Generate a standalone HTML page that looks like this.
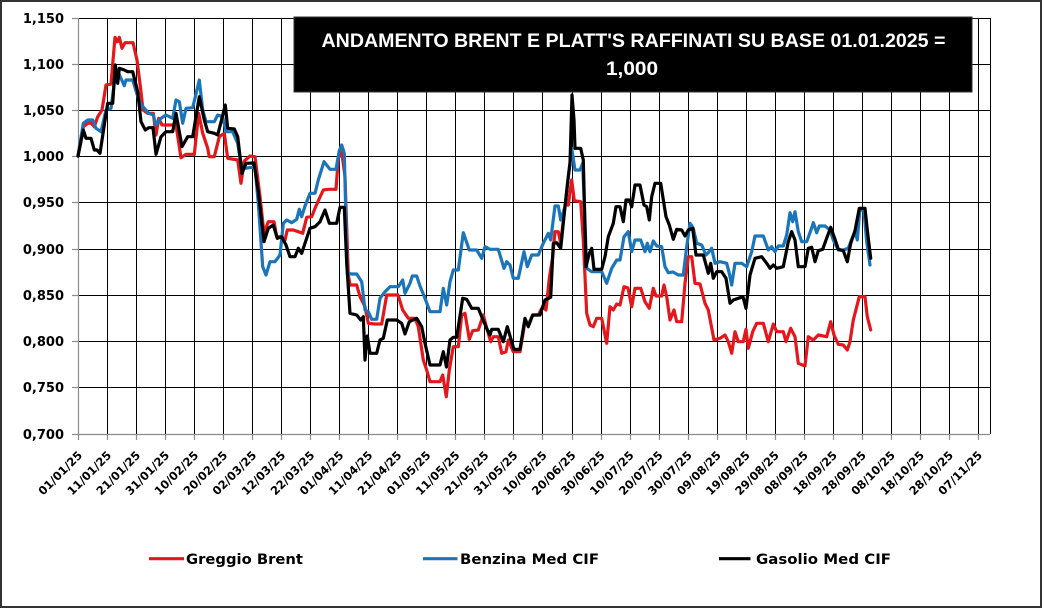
<!DOCTYPE html>
<html><head><meta charset="utf-8"><style>
html,body{margin:0;padding:0;background:#fff;}
svg{display:block;}
.yl{font-family:"DejaVu Sans","Liberation Sans",sans-serif;font-weight:bold;font-size:13px;fill:#000;}
.xl{font-family:"DejaVu Sans","Liberation Sans",sans-serif;font-weight:bold;font-size:11.5px;fill:#000;}
.lg{font-family:"DejaVu Sans","Liberation Sans",sans-serif;font-weight:bold;font-size:14px;fill:#000;}
.tt{font-family:"Liberation Sans",sans-serif;font-weight:bold;font-size:19px;fill:#fff;}
</style></head><body>
<svg width="1044" height="609" viewBox="0 0 1044 609" xmlns="http://www.w3.org/2000/svg">
<rect x="0" y="0" width="1044" height="609" fill="#fff"/>
<rect x="1" y="1" width="1040" height="606" fill="#fff" stroke="#333" stroke-width="2"/>

<!-- horizontal gridlines -->
<g stroke="#000" stroke-width="1">
<line x1="78" y1="18.5" x2="990" y2="18.5"/>
<line x1="78" y1="64.5" x2="990" y2="64.5"/>
<line x1="78" y1="110.5" x2="990" y2="110.5"/>
<line x1="78" y1="156.5" x2="990" y2="156.5"/>
<line x1="78" y1="202.5" x2="990" y2="202.5"/>
<line x1="78" y1="249.5" x2="990" y2="249.5"/>
<line x1="78" y1="295.5" x2="990" y2="295.5"/>
<line x1="78" y1="341.5" x2="990" y2="341.5"/>
<line x1="78" y1="387.5" x2="990" y2="387.5"/>
<line x1="990.5" y1="18" x2="990.5" y2="434"/>
</g>
<!-- vertical gridlines -->
<g stroke="#000" stroke-width="1">
<line x1="107.5" y1="18" x2="107.5" y2="434"/>
<line x1="136.5" y1="18" x2="136.5" y2="434"/>
<line x1="165.5" y1="18" x2="165.5" y2="434"/>
<line x1="194.5" y1="18" x2="194.5" y2="434"/>
<line x1="223.5" y1="18" x2="223.5" y2="434"/>
<line x1="252.5" y1="18" x2="252.5" y2="434"/>
<line x1="281.5" y1="18" x2="281.5" y2="434"/>
<line x1="310.5" y1="18" x2="310.5" y2="434"/>
<line x1="339.5" y1="18" x2="339.5" y2="434"/>
<line x1="368.5" y1="18" x2="368.5" y2="434"/>
<line x1="397.5" y1="18" x2="397.5" y2="434"/>
<line x1="426.5" y1="18" x2="426.5" y2="434"/>
<line x1="455.5" y1="18" x2="455.5" y2="434"/>
<line x1="484.5" y1="18" x2="484.5" y2="434"/>
<line x1="513.5" y1="18" x2="513.5" y2="434"/>
<line x1="542.5" y1="18" x2="542.5" y2="434"/>
<line x1="572.5" y1="18" x2="572.5" y2="434"/>
<line x1="601.5" y1="18" x2="601.5" y2="434"/>
<line x1="630.5" y1="18" x2="630.5" y2="434"/>
<line x1="659.5" y1="18" x2="659.5" y2="434"/>
<line x1="688.5" y1="18" x2="688.5" y2="434"/>
<line x1="717.5" y1="18" x2="717.5" y2="434"/>
<line x1="746.5" y1="18" x2="746.5" y2="434"/>
<line x1="775.5" y1="18" x2="775.5" y2="434"/>
<line x1="804.5" y1="18" x2="804.5" y2="434"/>
<line x1="833.5" y1="18" x2="833.5" y2="434"/>
<line x1="862.5" y1="18" x2="862.5" y2="434"/>
<line x1="891.5" y1="18" x2="891.5" y2="434"/>
<line x1="920.5" y1="18" x2="920.5" y2="434"/>
<line x1="949.5" y1="18" x2="949.5" y2="434"/>
<line x1="978.5" y1="18" x2="978.5" y2="434"/>
</g>
<!-- axes -->
<g stroke="#8c8c8c" stroke-width="1.2">
<line x1="78.5" y1="18" x2="78.5" y2="434"/>
<line x1="78" y1="434.5" x2="990" y2="434.5"/>
<line x1="72" y1="18.5" x2="78" y2="18.5"/>
<line x1="72" y1="64.5" x2="78" y2="64.5"/>
<line x1="72" y1="110.5" x2="78" y2="110.5"/>
<line x1="72" y1="156.5" x2="78" y2="156.5"/>
<line x1="72" y1="202.5" x2="78" y2="202.5"/>
<line x1="72" y1="249.5" x2="78" y2="249.5"/>
<line x1="72" y1="295.5" x2="78" y2="295.5"/>
<line x1="72" y1="341.5" x2="78" y2="341.5"/>
<line x1="72" y1="387.5" x2="78" y2="387.5"/>
<line x1="72" y1="434.5" x2="78" y2="434.5"/>
<line x1="78.5" y1="434" x2="78.5" y2="440"/>
<line x1="107.5" y1="434" x2="107.5" y2="440"/>
<line x1="136.5" y1="434" x2="136.5" y2="440"/>
<line x1="165.5" y1="434" x2="165.5" y2="440"/>
<line x1="194.5" y1="434" x2="194.5" y2="440"/>
<line x1="223.5" y1="434" x2="223.5" y2="440"/>
<line x1="252.5" y1="434" x2="252.5" y2="440"/>
<line x1="281.5" y1="434" x2="281.5" y2="440"/>
<line x1="310.5" y1="434" x2="310.5" y2="440"/>
<line x1="339.5" y1="434" x2="339.5" y2="440"/>
<line x1="368.5" y1="434" x2="368.5" y2="440"/>
<line x1="397.5" y1="434" x2="397.5" y2="440"/>
<line x1="426.5" y1="434" x2="426.5" y2="440"/>
<line x1="455.5" y1="434" x2="455.5" y2="440"/>
<line x1="484.5" y1="434" x2="484.5" y2="440"/>
<line x1="513.5" y1="434" x2="513.5" y2="440"/>
<line x1="542.5" y1="434" x2="542.5" y2="440"/>
<line x1="572.5" y1="434" x2="572.5" y2="440"/>
<line x1="601.5" y1="434" x2="601.5" y2="440"/>
<line x1="630.5" y1="434" x2="630.5" y2="440"/>
<line x1="659.5" y1="434" x2="659.5" y2="440"/>
<line x1="688.5" y1="434" x2="688.5" y2="440"/>
<line x1="717.5" y1="434" x2="717.5" y2="440"/>
<line x1="746.5" y1="434" x2="746.5" y2="440"/>
<line x1="775.5" y1="434" x2="775.5" y2="440"/>
<line x1="804.5" y1="434" x2="804.5" y2="440"/>
<line x1="833.5" y1="434" x2="833.5" y2="440"/>
<line x1="862.5" y1="434" x2="862.5" y2="440"/>
<line x1="891.5" y1="434" x2="891.5" y2="440"/>
<line x1="920.5" y1="434" x2="920.5" y2="440"/>
<line x1="949.5" y1="434" x2="949.5" y2="440"/>
<line x1="978.5" y1="434" x2="978.5" y2="440"/>
</g>

<!-- y labels -->
<g class="yl" text-anchor="end">
<text x="64" y="23">1,150</text>
<text x="64" y="69">1,100</text>
<text x="64" y="115">1,050</text>
<text x="64" y="161">1,000</text>
<text x="64" y="207">0,950</text>
<text x="64" y="254">0,900</text>
<text x="64" y="300">0,850</text>
<text x="64" y="346">0,800</text>
<text x="64" y="392">0,750</text>
<text x="64" y="439">0,700</text>
</g>
<!-- x labels -->
<g class="xl" text-anchor="end">
<text transform="translate(83,456) rotate(-45)">01/01/25</text>
<text transform="translate(112.03,456) rotate(-45)">11/01/25</text>
<text transform="translate(141.06,456) rotate(-45)">21/01/25</text>
<text transform="translate(170.09,456) rotate(-45)">31/01/25</text>
<text transform="translate(199.12,456) rotate(-45)">10/02/25</text>
<text transform="translate(228.15,456) rotate(-45)">20/02/25</text>
<text transform="translate(257.18,456) rotate(-45)">02/03/25</text>
<text transform="translate(286.21,456) rotate(-45)">12/03/25</text>
<text transform="translate(315.24,456) rotate(-45)">22/03/25</text>
<text transform="translate(344.27,456) rotate(-45)">01/04/25</text>
<text transform="translate(373.3,456) rotate(-45)">11/04/25</text>
<text transform="translate(402.33,456) rotate(-45)">21/04/25</text>
<text transform="translate(431.36,456) rotate(-45)">01/05/25</text>
<text transform="translate(460.39,456) rotate(-45)">11/05/25</text>
<text transform="translate(489.42,456) rotate(-45)">21/05/25</text>
<text transform="translate(518.45,456) rotate(-45)">31/05/25</text>
<text transform="translate(547.48,456) rotate(-45)">10/06/25</text>
<text transform="translate(576.51,456) rotate(-45)">20/06/25</text>
<text transform="translate(605.54,456) rotate(-45)">30/06/25</text>
<text transform="translate(634.57,456) rotate(-45)">10/07/25</text>
<text transform="translate(663.6,456) rotate(-45)">20/07/25</text>
<text transform="translate(692.63,456) rotate(-45)">30/07/25</text>
<text transform="translate(721.66,456) rotate(-45)">09/08/25</text>
<text transform="translate(750.69,456) rotate(-45)">19/08/25</text>
<text transform="translate(779.72,456) rotate(-45)">29/08/25</text>
<text transform="translate(808.75,456) rotate(-45)">08/09/25</text>
<text transform="translate(837.78,456) rotate(-45)">18/09/25</text>
<text transform="translate(866.81,456) rotate(-45)">28/09/25</text>
<text transform="translate(895.84,456) rotate(-45)">08/10/25</text>
<text transform="translate(924.87,456) rotate(-45)">18/10/25</text>
<text transform="translate(953.9,456) rotate(-45)">28/10/25</text>
<text transform="translate(982.93,456) rotate(-45)">07/11/25</text>
</g>

<!-- series -->
<g fill="none" stroke-width="3.2" stroke-linejoin="round" stroke-linecap="round">
<polyline stroke="#e3171c" points="78,156 83.3,126.7 87.7,123.3 91,123 94.3,126.7 97.7,116.7 102,110 106,85 111,84 115,37.3 117.3,41.7 119.3,37.3 122,48.3 125,42.7 133,42.7 137,60 141,92 143,110 147.7,113.3 153.3,113.3 156,135 158.7,118.3 162,125 176,125 181,157.7 186,154.3 194.3,154.3 198.7,113.3 202.7,133.3 207.7,148.3 209.3,156.7 214.3,156.7 219.3,136.7 224.3,133.3 227.7,158.3 237.7,160 241,183.3 244.3,161 250,156 255,156.7 260,196.7 264,233.3 268.3,221.7 274,221.7 276.7,236.7 281.7,236.7 285,240 287.3,230 293.3,230 298.3,231.7 302.7,233.3 306.7,217.3 311.7,216.7 315,208.3 318.3,200.7 323.3,190 328.3,189.3 336,189.3 338.3,158.3 341.7,151.7 345,176.7 348.3,275 350,285 356.7,285 360,296.7 365,306.7 368.3,323.3 375,324 381.7,324 386.7,295 398,295 402.7,310 408.3,318.3 415,318.3 418.3,326.7 423.3,360 426.7,370 430,381.7 440,381.7 442.7,375 446.3,396.7 449.3,370 453.3,346.7 458.3,346.7 461.7,315 465,313.3 469.3,339.3 472.7,330.7 478.3,330 483.3,315 486.7,328.3 490.7,341.7 493.3,336.7 498.3,336.7 501.7,353.3 506,351.7 508.3,340 513.3,351.7 520,351.7 525,321.7 528.3,325 532.7,315 538.3,315 542.7,306.7 546,310 549.3,278.3 552.7,256.7 555,231.7 558.3,231.7 560.7,243.3 565,205 568.3,205 571.7,180 574.3,200.7 580.7,201.7 583.3,240 586.7,313.3 590,325 593.3,326.7 596.7,318.3 601.7,318.3 606.7,343.3 610,306.7 613.3,310 616.7,304 620,305 624,286.7 628,288 631.7,306.7 635,288.3 640.7,288.3 645,301.7 649.3,308.3 653.3,288.3 656,296 661.7,296 664,285 666.7,296.7 670,320 674,310 676.7,321.7 681.7,321.7 685,283.3 688.3,256.7 691.7,256.7 695,283.3 700,284 705,303.3 708.3,310 714,340 720,338.3 725,335 728.3,341.7 731.7,353.3 735,331.7 738.3,341.7 743.3,341.7 746,329.3 748.3,348.3 752.7,331.7 756.7,323.3 763.3,323.3 768.3,341.7 773.3,324 776.7,331.7 783.3,331.7 786,341.7 790.7,328.3 795,336.7 798.3,363.3 805,366 808.3,336.7 813.3,340 818.3,335 826.7,336.7 830.7,321.7 834,335 838.3,344.3 843.3,345 847.3,350 850,341.7 853.3,320 859.3,296.7 865,296.7 867.3,316.7 870.7,330"/>
<polyline stroke="#1b75bb" points="78,156 83.3,123.3 87.7,120 92.7,120 96,128.3 101,131.7 106,110 111,108.3 115.3,75 118.7,73.3 124.3,85.7 126,80 132.7,80 139.3,101.7 144.3,108.3 148.7,113.3 153.3,115 156,125 161,118.3 166,115 172.7,118.3 176,100 179.3,101.7 182.7,123.3 186,108.3 192.7,107.7 199.3,80 202.7,110 206,121.7 214.3,121.7 217.7,115 222.7,116.7 226,131.7 232.7,131.7 237.7,143.3 241,165 244.3,168.3 255,167 258.3,203.3 262.7,266.7 266,275 270,261.7 275,261.7 280,255 283.3,223.3 286.7,220 291.7,222.7 296.7,219.3 299.3,209.3 301.7,216.7 305,206 310,193.3 315,193.3 318.3,180 324,161.7 330,169.3 336,169.3 339.3,150.7 341.7,145 344.3,153.3 347.3,273.3 351.7,274 356.7,274 361.7,281.7 365,310 368.3,311.7 371.7,319.3 376.7,319.3 380,298.3 385,291.7 390,286.7 398.3,286.7 402.7,280 405,293.3 410,283.3 412.3,276 416.7,276 420,286 425,298.3 430,311.7 440,311.7 443.3,288.3 446.7,305 450,281.7 453.3,270 458.3,270 463.3,232.7 469.3,250 476.7,250 481.7,258.3 485,246.7 490,249.3 498.3,249.3 504,268.3 506.7,261.7 510,265 513.3,278.3 518.3,278.3 524,251.7 527.3,266.7 531.7,255 538.3,255 543.3,243.3 548.3,233.3 550.7,240 555,206 558.3,206 560.7,220 565,206.7 568.3,176.7 571.7,148.3 575,170 580,170 582.7,163.3 586.7,268.3 591.7,271.7 601.7,271.7 606.7,283.3 611.7,268.3 616.7,260 620,260 624,236.7 628.3,231.7 631.7,251.7 635,240 640.7,240 645,251.7 647.3,243.3 650,251.7 653.3,241 656.7,246 661.7,246.7 665,266.7 668.3,272.7 673,272 678.3,275 683.3,275 686.7,246.7 690,223.3 693.3,228.3 696.7,243.3 701.7,245 706,255 708,253 711.7,248.3 715,263.3 720,261.7 726.7,263.3 729.3,273.3 731.7,285 735,263.3 741.7,263.3 746.7,266.7 751.7,251.7 755,236 763.3,236 768.3,250 771.7,246.7 775,251.7 778.3,246 783.3,246 786.7,235 790,212.7 792.7,221.7 795,211.7 798.3,231.7 801.7,241.7 806.7,241.7 810.7,230.7 813.3,222.7 816.7,232.7 819.3,226 825,226 830,230 833.3,240 838.3,250 843.3,250 848.3,248.3 851.7,239.3 855,231.7 857.3,240 860,208.3 864,211.7 866.7,241.7 870,265"/>
<polyline stroke="#000" points="78,156 83.3,130 86,138.3 91,138.3 94.3,150 97,150 100,153.3 104.3,125 107.7,103.3 112.7,103.3 115.3,65 117.7,83.3 119.3,68.3 124.3,70 127.7,71.7 132.7,71.7 137.7,91.7 141,121.7 145.3,130 148.7,127.7 153,127.7 156,154.3 161,136.7 166,131.7 172.7,131.7 176,113.3 182,146.7 187.7,136.7 192.7,136.7 199.3,96.7 204.3,120 207.7,131.7 214.3,133.3 217.7,135 225.3,105 227.7,128.3 234.3,129 237.7,136.7 242,173.3 246,163.3 254,163 258.3,191.7 264,241.7 268.3,228.3 273.3,225 277.3,238.3 281.7,236.7 286,245 290,256.7 295,256.7 298.3,248.3 301.7,253.3 305,243.3 310,228.3 315,226.7 320,221.7 325,210 329.3,223.3 336.7,223.3 340,207.3 344.3,207.3 346.7,263.3 350,313.3 356.7,315 360.7,320 363.3,316.7 365,360 367.3,336 370,353.3 376.7,353.3 380,340 383.3,338.3 387.3,320 396.7,320 401.7,323.3 405,334 409.3,321.7 416.7,318.3 421.7,326.7 425,343.3 430,365 440,365 443.3,351.7 446.5,367 450,340 453.3,337.3 456.7,337.3 462.7,298.3 466.7,299.3 471.7,308.3 478.3,308.3 481.7,316.7 486.7,328.3 490,335 491.7,329.3 498.3,329.3 503.3,341.7 507.3,326.7 511.7,341.7 514,349.3 520,349.3 525,318.3 528.3,326.7 532.7,315 540,315 545,300 550.7,297.3 553.3,243.3 556.7,242.7 560.7,248.3 565,206.7 568.3,176.7 570,163.3 572,95 574,120 575,148.3 580.7,148.3 583.3,160 586,266.7 589.3,253.3 591.7,248.3 594,269.3 601.7,269.3 605,256.7 608.3,236.7 613.3,223.3 616,206.7 620,206.7 623.3,221.7 626,200 629.3,200 631.7,206.7 635,185 640,185 644,205 646.7,206.7 649.3,220 651.7,196.7 655,183.3 660.7,183.3 666,216.7 669.3,225 673.3,239.3 676.7,229.3 681.7,230 685,236 688.3,230 692.7,228.3 696,255 703.3,255 708.3,273.3 710.7,263.3 713.3,278.3 716.7,271.7 721.7,271.7 726,278.3 730,303.3 733.3,300 743,296.7 746,308.3 750,275 755,258.3 761.7,256.7 766.7,263.3 770,268.3 773.3,265 776.7,268.3 783.3,266.7 788.3,241.7 791.7,231.7 795,240 798.3,266.7 805,266.7 808.3,248.3 811.7,247.3 815,261.7 818.3,250.7 822.7,249.3 826,240 830.7,227.3 835,239.3 838.3,249.3 843.3,250.7 847.3,261.7 850.7,243.3 855,230.7 859.3,208.3 865,208.3 867.3,230 870.7,258.3"/>
</g>

<!-- title -->
<rect x="294" y="17" width="678" height="75" fill="#000" stroke="#333" stroke-width="1"/>
<text class="tt" x="321.5" y="47" textLength="624" lengthAdjust="spacingAndGlyphs">ANDAMENTO BRENT E PLATT'S RAFFINATI SU BASE 01.01.2025 =</text>
<text class="tt" x="606" y="75" textLength="52" lengthAdjust="spacingAndGlyphs">1,000</text>

<!-- legend -->
<line x1="149" y1="558.7" x2="184" y2="558.7" stroke="#e3171c" stroke-width="3.2"/>
<text class="lg" x="186" y="564" textLength="117" lengthAdjust="spacingAndGlyphs">Greggio Brent</text>
<line x1="423" y1="558.7" x2="457.5" y2="558.7" stroke="#1b75bb" stroke-width="3.2"/>
<text class="lg" x="460" y="564" textLength="139" lengthAdjust="spacingAndGlyphs">Benzina Med CIF</text>
<line x1="719" y1="558.7" x2="750.5" y2="558.7" stroke="#000" stroke-width="3.2"/>
<text class="lg" x="756" y="564" textLength="135" lengthAdjust="spacingAndGlyphs">Gasolio Med CIF</text>
</svg>
</body></html>
